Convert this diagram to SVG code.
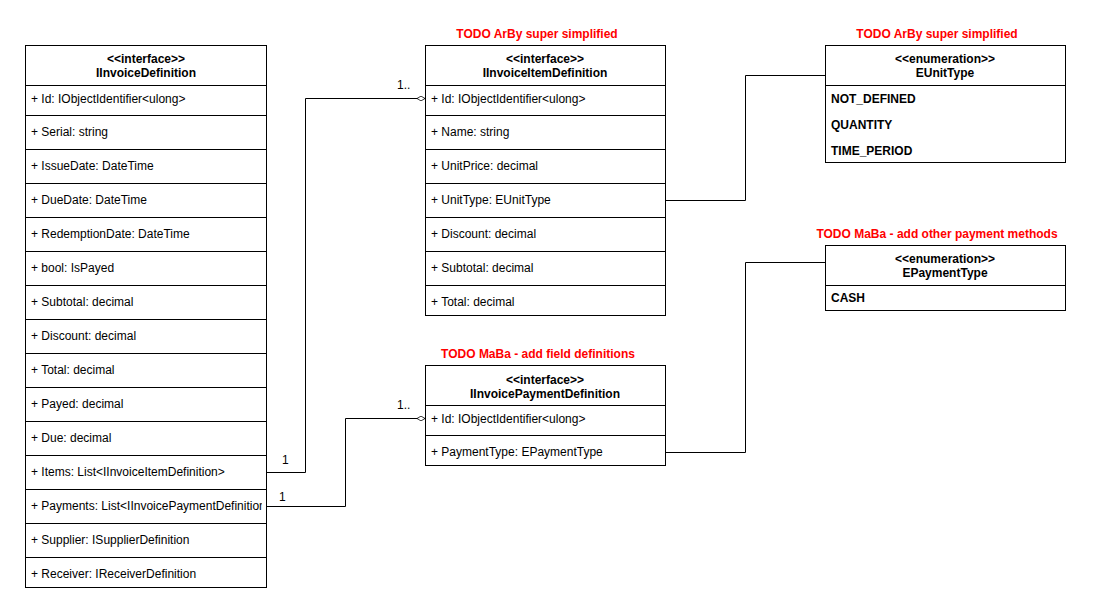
<svg xmlns="http://www.w3.org/2000/svg" width="1101" height="616" viewBox="0 0 1101 616">
<defs>
<style>
.box{fill:#fff;stroke:#000;stroke-width:1}
.div{stroke:#000;stroke-width:1}
text{font-family:"Liberation Sans",Arial,sans-serif;font-size:12px;fill:#000;dominant-baseline:central}
.hd{font-weight:bold;text-anchor:middle}
.en{font-weight:bold}
.todo{font-weight:bold;fill:#ff0000;text-anchor:middle}
.lbl{font-size:12px}
.con{fill:none;stroke:#000;stroke-width:1}
</style>
<marker id="dia" viewBox="0 0 10 6" refX="10" refY="3" markerWidth="8" markerHeight="5" orient="auto" markerUnits="userSpaceOnUse">
<path d="M0,3 L5,0 L10,3 L5,6 Z" fill="#fff" stroke="#000" stroke-width="1"/>
</marker>
</defs>
<rect width="1101" height="616" fill="#fff"/>

<g id="connectors">
<path class="con" d="M266.5,472.5 H305.5 V98.5 H425" marker-end="url(#dia)"/>
<path class="con" d="M266.5,506.5 H345.5 V418.5 H425" marker-end="url(#dia)"/>
<path class="con" d="M665,200.5 H745.5 V75.5 H825"/>
<path class="con" d="M665,452.5 H745.5 V262.5 H825"/>
<text class="lbl" x="282" y="460">1</text>
<text class="lbl" x="279" y="497">1</text>
<text class="lbl" x="397" y="85">1..</text>
<text class="lbl" x="397" y="405">1..</text>
</g>

<g id="IInvoiceDefinition">
<rect class="box" x="25.5" y="45.5" width="241" height="542"/>
<text class="hd" x="146" y="59">&lt;&lt;interface&gt;&gt;</text>
<text class="hd" x="146" y="73">IInvoiceDefinition</text>
<path class="div" d="M25.5,85.5H266.5M25.5,115.5H266.5M25.5,149.5H266.5M25.5,183.5H266.5M25.5,217.5H266.5M25.5,251.5H266.5M25.5,285.5H266.5M25.5,319.5H266.5M25.5,353.5H266.5M25.5,387.5H266.5M25.5,421.5H266.5M25.5,455.5H266.5M25.5,489.5H266.5M25.5,523.5H266.5M25.5,557.5H266.5"/>
<text x="31" y="99">+ Id: IObjectIdentifier&lt;ulong&gt;</text>
<text x="31" y="132">+ Serial: string</text>
<text x="31" y="166">+ IssueDate: DateTime</text>
<text x="31" y="200">+ DueDate: DateTime</text>
<text x="31" y="234">+ RedemptionDate: DateTime</text>
<text x="31" y="268">+ bool: IsPayed</text>
<text x="31" y="302">+ Subtotal: decimal</text>
<text x="31" y="336">+ Discount: decimal</text>
<text x="31" y="370">+ Total: decimal</text>
<text x="31" y="404">+ Payed: decimal</text>
<text x="31" y="438">+ Due: decimal</text>
<text x="31" y="472">+ Items: List&lt;IInvoiceItemDefinition&gt;</text>
<svg x="25" y="490" width="237" height="34" overflow="hidden"><text x="6" y="16">+ Payments: List&lt;IInvoicePaymentDefinition&gt;</text></svg>
<text x="31" y="540">+ Supplier: ISupplierDefinition</text>
<text x="31" y="574">+ Receiver: IReceiverDefinition</text>
</g>

<g id="IInvoiceItemDefinition">
<text class="todo" x="537" y="34">TODO ArBy super simplified</text>
<rect class="box" x="425.5" y="45.5" width="240" height="270"/>
<text class="hd" x="545" y="59">&lt;&lt;interface&gt;&gt;</text>
<text class="hd" x="545" y="73">IInvoiceItemDefinition</text>
<path class="div" d="M425.5,85.5H665.5M425.5,115.5H665.5M425.5,149.5H665.5M425.5,183.5H665.5M425.5,217.5H665.5M425.5,251.5H665.5M425.5,285.5H665.5"/>
<text x="431" y="99">+ Id: IObjectIdentifier&lt;ulong&gt;</text>
<text x="431" y="132">+ Name: string</text>
<text x="431" y="166">+ UnitPrice: decimal</text>
<text x="431" y="200">+ UnitType: EUnitType</text>
<text x="431" y="234">+ Discount: decimal</text>
<text x="431" y="268">+ Subtotal: decimal</text>
<text x="431" y="302">+ Total: decimal</text>
</g>

<g id="IInvoicePaymentDefinition">
<text class="todo" x="538" y="354">TODO MaBa - add field definitions</text>
<rect class="box" x="425.5" y="365.5" width="240" height="100"/>
<text class="hd" x="545" y="380">&lt;&lt;interface&gt;&gt;</text>
<text class="hd" x="545" y="394">IInvoicePaymentDefinition</text>
<path class="div" d="M425.5,405.5H665.5M425.5,435.5H665.5"/>
<text x="431" y="419">+ Id: IObjectIdentifier&lt;ulong&gt;</text>
<text x="431" y="452">+ PaymentType: EPaymentType</text>
</g>

<g id="EUnitType">
<text class="todo" x="937" y="34">TODO ArBy super simplified</text>
<rect class="box" x="825.5" y="45.5" width="240" height="117"/>
<text class="hd" x="945" y="59">&lt;&lt;enumeration&gt;&gt;</text>
<text class="hd" x="945" y="73">EUnitType</text>
<path class="div" d="M825.5,85.5H1065.5"/>
<text class="en" x="831" y="99">NOT_DEFINED</text>
<text class="en" x="831" y="125">QUANTITY</text>
<text class="en" x="831" y="151">TIME_PERIOD</text>
</g>

<g id="EPaymentType">
<text class="todo" x="937" y="234">TODO MaBa - add other payment methods</text>
<rect class="box" x="825.5" y="245.5" width="240" height="65"/>
<text class="hd" x="945" y="259">&lt;&lt;enumeration&gt;&gt;</text>
<text class="hd" x="945" y="273">EPaymentType</text>
<path class="div" d="M825.5,285.5H1065.5"/>
<text class="en" x="831" y="298">CASH</text>
</g>
</svg>
